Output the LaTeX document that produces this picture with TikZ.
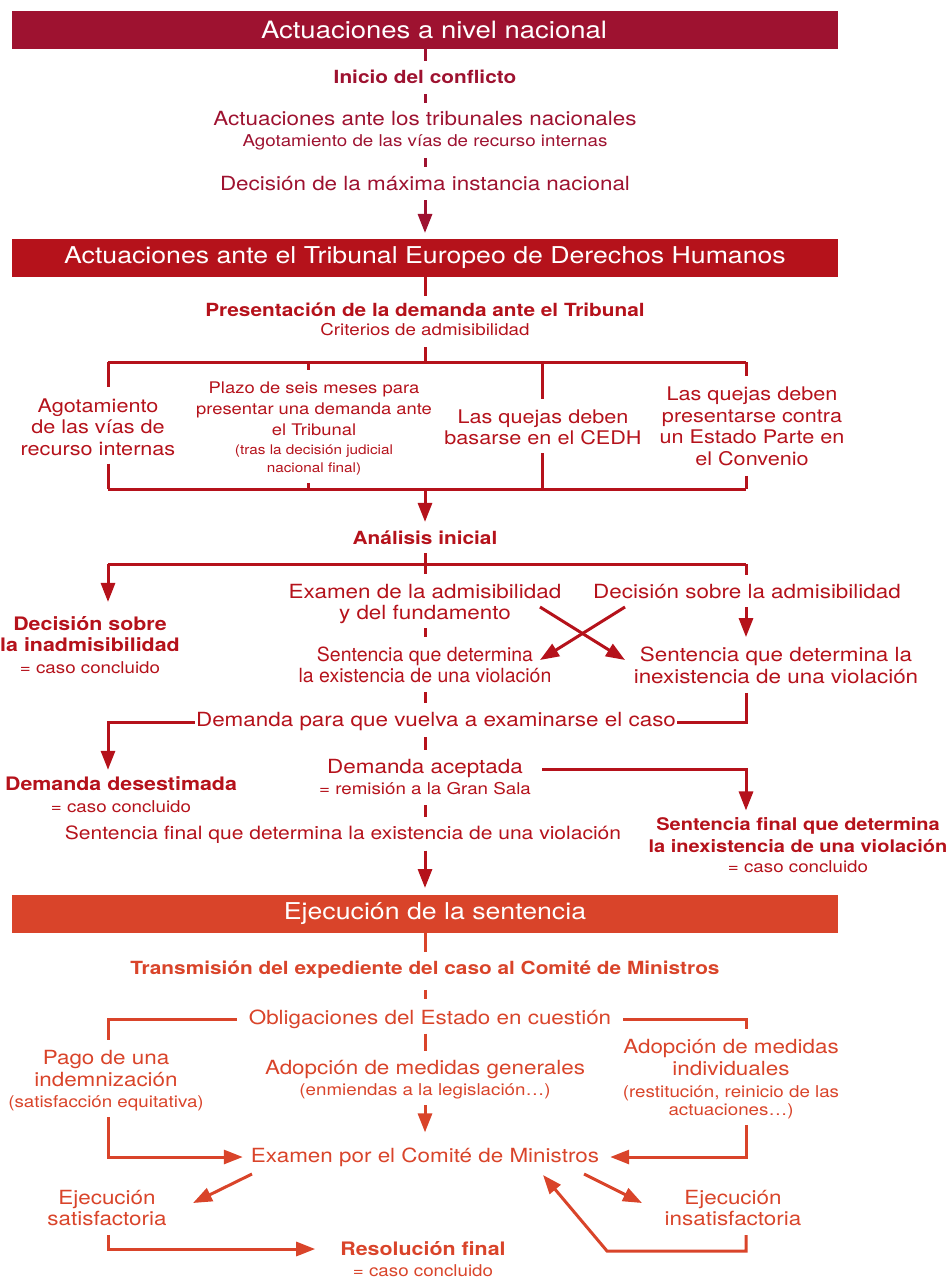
\documentclass[tikz,border=0pt]{standalone}
\usepackage{fontspec}
\setmainfont{TeX Gyre Heros}[FakeStretch=1.15]
\newfontfamily\plainheros{TeX Gyre Heros}
\usetikzlibrary{arrows.meta}
\definecolor{secone}{HTML}{9E1230}
\definecolor{sectwo}{HTML}{B5121B}
\definecolor{secthree}{HTML}{D9442A}
\begin{document}
\begin{tikzpicture}[x=1pt,y=-1pt,
  hdbox/.style={minimum width=826pt, minimum height=38pt, inner sep=0pt},
  hdtext/.style={inner sep=0pt, text=white, font=\fontsize{23.2}{26}\selectfont},
  txt/.style={inner sep=0pt, align=center},
  rg/.style={txt, font=\fontsize{19.5}{21.5}\selectfont},
  nr/.style={txt, font=\plainheros\fontsize{19.5}{21.5}\selectfont},
  bd/.style={txt, font=\fontsize{18.1}{21.5}\selectfont\bfseries},
  sm/.style={txt, font=\fontsize{16.3}{18}\selectfont},
  cr/.style={txt, font=\fontsize{18.8}{21.5}\selectfont},
  pl/.style={txt, font=\fontsize{16}{21}\selectfont},
  tn/.style={txt, font=\fontsize{13.3}{18}\selectfont},
  ln/.style={line width=3pt},
  arr/.style={ln, -{Triangle[length=19pt,width=14pt]}}]
\useasboundingbox (0,0) rectangle (947,1281);

% ---------------- Section 1
\begin{scope}[color=secone]
\node[hdbox, fill=secone] (h1) at (425,30) {};
\node[hdtext, font=\fontsize{23.9}{26}\selectfont] (h1t) at (434,30) {Actuaciones a nivel nacional};
\node[bd] (inicio) at (425,77) {Inicio del conflicto};
\node[rg] (act) at (425,119) {Actuaciones ante los tribunales nacionales};
\node[sm] (agot) at (425,142) {Agotamiento de las vías de recurso internas};
\node[rg] (dec) at (425,184) {Decisión de la máxima instancia nacional};
\draw[ln, shorten >=9pt] (h1.south) -- (inicio.north);
\draw[ln, shorten <=10pt, shorten >=9pt] (inicio.south) -- (act.north);
\draw[ln, shorten <=8pt, shorten >=10pt] (agot.south) -- (dec.north);
\end{scope}
\draw[arr, secone, shorten <=9pt, shorten >=6pt] (dec.south) -- (425,239);

% ---------------- Section 2
\begin{scope}[color=sectwo]
\node[hdbox, fill=sectwo] (h2) at (425,258) {};
\node[hdtext] (h2t) at (425,258) {Actuaciones ante el Tribunal Europeo de Derechos Humanos};
\node[bd] (pres) at (425,310) {Presentación de la demanda ante el Tribunal};
\node[sm] (crit) at (425,330) {Criterios de admisibilidad};
\draw[ln, shorten >=7pt] (h2.south) -- (pres.north);

\coordinate (tbL) at (108,362);
\coordinate (tbB) at (308,362);
\coordinate (tbC) at (425,362);
\coordinate (tbD) at (542,362);
\coordinate (tbR) at (746,362);
\coordinate (bbL) at (108,489);
\coordinate (bbB) at (308,489);
\coordinate (bbC) at (425,489);
\coordinate (bbD) at (542,489);
\coordinate (bbR) at (746,489);

\node[cr] (na) at (98,427) {Agotamiento\\de las vías de\\recurso internas};
\node[pl] (nb) at (314,409) {Plazo de seis meses para\\presentar una demanda ante\\el Tribunal};
\node[tn] (nbb) at (314,460) {(tras la decisión judicial\\nacional final)};
\node[cr] (nc) at (543,427.5) {Las quejas deben\\basarse en el CEDH};
\node[cr] (nd) at (752,426.5) {Las quejas deben\\presentarse contra\\un Estado Parte en\\el Convenio};

\draw[ln, shorten <=11pt] (crit.south) -- (tbC);
\draw[ln] (tbL) -- (tbR);
\draw[ln, shorten >=11pt] (tbL) -- (tbL |- na.north);
\draw[ln, shorten >=12pt] (tbB) -- (tbB |- nb.north);
\draw[ln, shorten >=11pt] (tbD) -- (tbD |- nc.north);
\draw[ln, shorten >=11pt] (tbR) -- (tbR |- nd.north);
\draw[ln] (bbL) -- (bbR);
\draw[ln, shorten <=8pt] (na.south -| bbL) -- (bbL);
\draw[ln, shorten <=7.5pt] (nbb.south -| bbB) -- (bbB);
\draw[ln, shorten <=8pt] (nc.south -| bbD) -- (bbD);
\draw[ln, shorten <=10pt] (nd.south -| bbR) -- (bbR);

\node[bd] (anal) at (425,538) {Análisis inicial};
\draw[arr, shorten >=9pt] (bbC) -- (anal.north);

\coordinate (sbL) at (108,564);
\coordinate (sbC) at (425,564);
\coordinate (sbR) at (746,564);
\draw[ln, shorten <=8pt] (anal.south) -- (sbC);
\draw[ln] (sbL) -- (sbR);

\node[bd, font=\fontsize{18.6}{21.5}\selectfont\bfseries] (inad) at (90,634) {Decisión sobre\\la inadmisibilidad};
\node[sm] (ccA) at (90,668) {= caso concluido};
\node[rg] (exam) at (425,604) {Examen de la admisibilidad\\y del fundamento};
\node[rg] (decad) at (747,592) {Decisión sobre la admisibilidad};
\node[nr] (sentA) at (425,665) {Sentencia que determina\\la existencia de una violación};
\node[rg] (sentB) at (776,665.5) {Sentencia que determina la\\inexistencia de una violación};

\draw[arr, shorten >=14pt] (sbL) -- (sbL |- inad.north);
\draw[ln, shorten >=10pt] (sbC) -- (exam.north);
\draw[ln, shorten >=10pt] (sbR) -- (sbR |- decad.north);
\draw[arr, shorten <=8pt, shorten >=10pt] (decad.south -| sbR) -- (sentB.north -| sbR);
\draw[ln, shorten <=4pt, shorten >=10pt] (exam.south) -- (sentA.north);

\coordinate (xa) at (540,607);
\coordinate (xb) at (625,660);
\coordinate (xc) at (625,607);
\coordinate (xd) at (540,660);
\draw[arr] (xa) -- (xb);
\draw[arr] (xc) -- (xd);

\node[rg] (dem) at (436,722) {Demanda para que vuelva a examinarse el caso};
\draw[ln, shorten <=9pt, shorten >=10pt] (sentA.south) -- (sentA.south |- dem.north);
\node[bd, font=\fontsize{18.6}{21.5}\selectfont\bfseries] (desest) at (121,784) {Demanda desestimada};
\node[sm] (ccB) at (121,807) {= caso concluido};
\draw[arr, shorten <=1pt, shorten >=7pt] (dem.west) -| (sbL |- desest.north);
\draw[ln, shorten <=9pt, shorten >=1pt] (sentB.south -| sbR) |- (dem.east);

\node[rg] (acept) at (425,769) {Demanda aceptada};
\node[sm] (remis) at (425,789) {= remisión a la Gran Sala};
\draw[ln, shorten <=6pt, shorten >=10pt] (dem.south -| acept.north) -- (acept.north);
\node[bd, font=\fontsize{17.4}{21.5}\selectfont\bfseries] (sentF) at (798,835) {Sentencia final que determina\\la inexistencia de una violación};
\node[sm] (ccC) at (798,867) {= caso concluido};
\draw[arr, shorten <=19pt, shorten >=7pt] (acept.east) -| (sbR |- sentF.north);

\node[rg, font=\fontsize{18.3}{21.5}\selectfont] (sentE) at (343,835) {Sentencia final que determina la existencia de una violación};
\draw[ln, shorten <=10pt, shorten >=9pt] (remis.south) -- (remis.south |- sentE.north);
\end{scope}
\draw[arr, sectwo, shorten <=6.5pt, shorten >=7pt] (remis.south |- sentE.south) -- (425,895);

% ---------------- Section 3
\begin{scope}[color=secthree]
\node[hdbox, fill=secthree] (h3) at (425,914) {};
\node[hdtext] (h3t) at (435,914) {Ejecución de la sentencia};
\node[bd] (trans) at (425,970) {Transmisión del expediente del caso al Comité de Ministros};
\node[rg] (oblig) at (430,1019) {Obligaciones del Estado en cuestión};
\draw[ln, shorten >=9pt] (h3.south) -- (trans.north);
\draw[ln, shorten <=11pt, shorten >=10pt] (trans.south) -- (trans.south |- oblig.north);

\coordinate (obL) at (108,1019);
\coordinate (obR) at (746,1019);
\node[rg] (pago) at (106,1068.5) {Pago de una\\indemnización};
\node[sm] (sat) at (106,1103) {(satisfacción equitativa)};
\node[rg] (ind) at (731,1057.5) {Adopción de medidas\\individuales};
\node[sm] (rest) at (731,1102) {(restitución, reinicio de las\\actuaciones…)};
\node[rg] (gen) at (425,1070) {Adopción de medidas generales};
\node[sm] (enm) at (425,1091) {(enmiendas a la legislación…)};
\node[rg] (exam2) at (425,1157) {Examen por el Comité de Ministros};

\draw[ln, shorten <=12pt, shorten >=10pt] (oblig.west) -| (obL |- pago.north);
\draw[ln, shorten <=12pt, shorten >=10pt] (oblig.east) -| (obR |- ind.north);
\draw[ln, shorten <=5pt, shorten >=10pt] (oblig.south -| gen.north) -- (gen.north);
\draw[arr, shorten <=6.5pt, shorten >=15pt] (enm.south) -- (exam2.north);
\draw[arr, shorten <=6.5pt, shorten >=8pt] (sat.south -| obL) |- (exam2.west);
\draw[arr, shorten <=6.5pt, shorten >=11pt] (rest.south -| obR) |- (exam2.east);

\node[rg] (esat) at (107,1208) {Ejecución\\satisfactoria};
\node[rg] (einsat) at (733,1208) {Ejecución\\insatisfactoria};
\node[bd, font=\fontsize{18.6}{21.5}\selectfont\bfseries] (resol) at (423,1249) {Resolución final};
\node[sm] (ccD) at (423,1271) {= caso concluido};

\coordinate (da) at (252,1174);
\coordinate (db) at (193,1203);
\coordinate (dc) at (584,1174);
\coordinate (dd) at (642,1203);
\draw[arr] (da) -- (db);
\draw[arr] (dc) -- (dd);

\coordinate (rb) at (607,1251);
\coordinate (re) at (543,1175);
\draw[arr, shorten <=9pt, shorten >=25pt] (esat.south -| obL) |- (resol.west);
\draw[arr, shorten <=9pt] (einsat.south -| obR) -- (obR |- rb) -- (rb) -- (re);
\end{scope}
\end{tikzpicture}
\end{document}
